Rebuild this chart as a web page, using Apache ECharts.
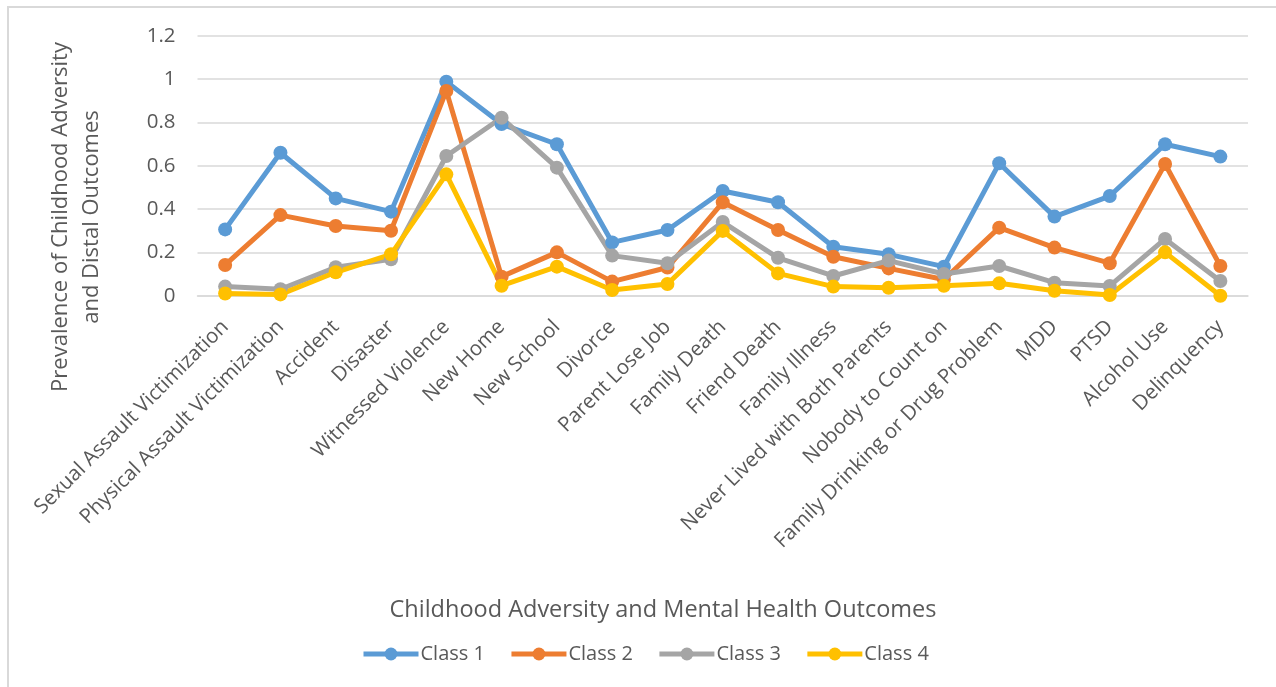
<!DOCTYPE html>
<html>
<head>
<meta charset="utf-8">
<script src="https://cdn.jsdelivr.net/npm/echarts@6/dist/echarts.min.js"></script>
<style>html,body{margin:0;padding:0;background:#fff;}#chart{width:1276px;height:687px;}</style>
</head>
<body>
<div id="chart"></div>
<script>
const categories = ["Sexual Assault Victimization","Physical Assault Victimization","Accident","Disaster","Witnessed Violence","New Home","New School","Divorce","Parent Lose Job","Family Death","Friend Death","Family Illness","Never Lived with Both Parents","Nobody to Count on","Family Drinking or Drug Problem","MDD","PTSD","Alcohol Use","Delinquency"];
const class1 = [0.306,0.660,0.449,0.388,0.988,0.792,0.699,0.246,0.303,0.483,0.431,0.226,0.191,0.134,0.611,0.365,0.460,0.699,0.642];
const class2 = [0.142,0.372,0.322,0.300,0.945,0.088,0.200,0.065,0.130,0.431,0.303,0.180,0.126,0.075,0.314,0.222,0.150,0.608,0.137];
const class3 = [0.042,0.030,0.131,0.168,0.645,0.821,0.591,0.185,0.150,0.340,0.175,0.091,0.162,0.100,0.137,0.060,0.045,0.262,0.068];
const class4 = [0.010,0.006,0.108,0.191,0.560,0.046,0.134,0.026,0.054,0.299,0.103,0.042,0.037,0.046,0.057,0.023,0.003,0.200,0.000];
const yTicks = {min:0, max:1.2, interval:0.2};
const seriesNames = ["Class 1","Class 2","Class 3","Class 4"];
const colors = ["#5B9BD5","#ED7D31","#A5A5A5","#FFC000"];
const seriesData = [class1, class2, class3, class4];

const FONT = "Open Sans";
const chart = echarts.init(document.getElementById('chart'));
chart.setOption({
  animation:false,
  color: colors,
  textStyle:{fontFamily:FONT},
  grid:{left:197.5, right:28, top:35.7, bottom:391.3, outerBoundsMode:'none', containLabel:false},
  legend:{
    data: seriesNames, left:356, top:639, itemWidth:55, itemHeight:16, itemGap:24,
    lineStyle:{width:5},
    textStyle:{fontFamily:FONT, fontSize:20, color:'#595959', padding:[0,0,0,-3]}
  },
  xAxis:{
    type:'category', data:categories, boundaryGap:true,
    axisLine:{lineStyle:{color:'#d9d9d9', width:1.5}},
    axisTick:{show:false},
    axisLabel:{rotate:45, interval:0, margin:28, fontFamily:FONT, fontSize:20.5, color:'#595959'}
  },
  yAxis:{
    type:'value', min:yTicks.min, max:yTicks.max, interval:yTicks.interval,
    axisLine:{show:false}, axisTick:{show:false},
    splitLine:{lineStyle:{color:'#d9d9d9', width:1.5}},
    axisLabel:{margin:22, fontFamily:FONT, fontSize:20.5, color:'#595959'}
  },
  series: seriesNames.map((n,i)=>({
    name:n, type:'line', data:seriesData[i], symbol:'circle', symbolSize:14,
    lineStyle:{width:5, color:colors[i]}, itemStyle:{color:colors[i]}
  })),
  graphic:[
    {type:'rect', shape:{x:8, y:7, width:1300, height:720}, style:{fill:null, stroke:'#d9d9d9', lineWidth:2}, silent:true},
    {type:'text', x:76, y:217, rotation:Math.PI/2, style:{text:'Prevalence of Childhood Adversity\nand Distal Outcomes', font:'22px "Open Sans"', fill:'#595959', align:'center', verticalAlign:'middle', lineHeight:31}},
    {type:'text', x:663, y:610, style:{text:'Childhood Adversity and Mental Health Outcomes', font:'23.5px "Open Sans"', fill:'#595959', align:'center', verticalAlign:'middle'}}
  ]
});
</script>
</body>
</html>
